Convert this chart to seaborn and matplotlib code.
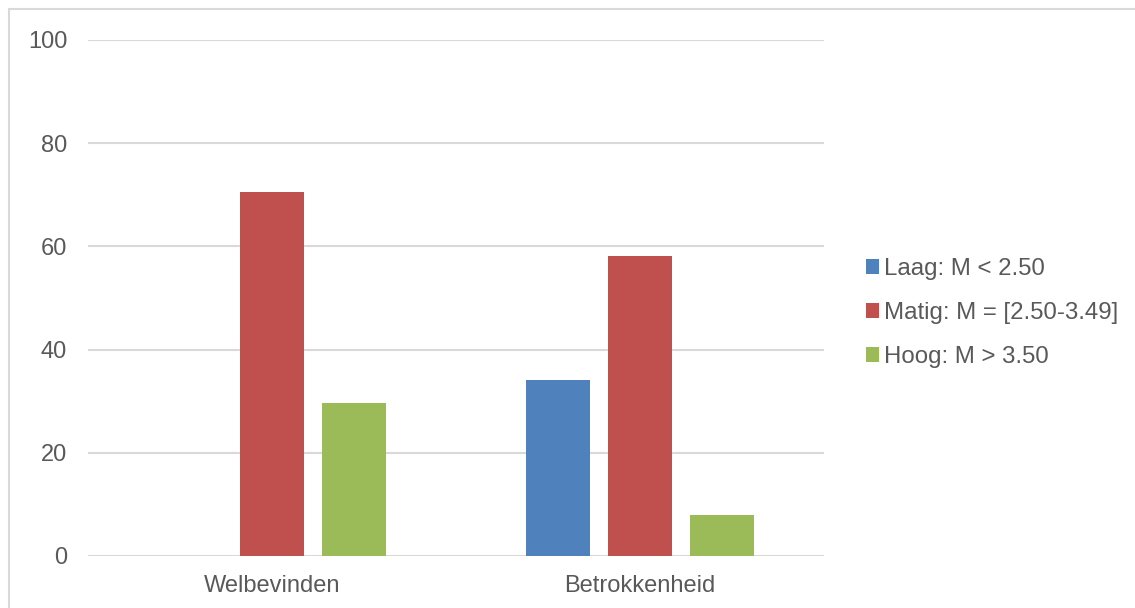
import matplotlib
matplotlib.use("Agg")
import matplotlib.pyplot as plt
import matplotlib.patches as mpatches
import seaborn as sns
import pandas as pd

categories = ["Welbevinden", "Betrokkenheid"]
series_names = ["Laag: M < 2.50", "Matig: M = [2.50-3.49]", "Hoog: M > 3.50"]
laag = [0.0, 34.1]
matig = [70.5, 58.2]
hoog = [29.6, 7.9]
colors = ["#4F81BD", "#C0504D", "#9BBB59"]
yticks = [0, 20, 40, 60, 80, 100]

rows = []
for name, vals in zip(series_names, [laag, matig, hoog]):
    for c, v in zip(categories, vals):
        rows.append({"cat": c, "serie": name, "val": v})
df = pd.DataFrame(rows)

sns.set_style("white")
plt.rcParams["font.family"] = ["Liberation Sans", "DejaVu Sans"]

fig = plt.figure(figsize=(11.35, 6.08), dpi=100)
ax = fig.add_axes([88/1135, 52/608, (824-88)/1135, (556-40)/608])

sns.barplot(data=df, x="cat", y="val", hue="serie", order=categories,
            hue_order=series_names, palette=colors, width=0.668, gap=0.21,
            saturation=1, ax=ax, edgecolor="none")

ax.set_xlim(-0.5, 1.5)
ax.set_ylim(0, 100)
ax.set_yticks(yticks)
ax.set_yticklabels([str(t) for t in yticks])
ax.yaxis.grid(True, color="#D9D9D9", linewidth=1.5)
ax.set_axisbelow(True)
for s in ax.spines.values():
    s.set_visible(False)
ax.set_xlabel("")
ax.set_ylabel("")
ax.tick_params(axis="both", length=0, labelsize=17, colors="#595959", pad=14)
ax.tick_params(axis="y", pad=15)

handles, labels = ax.get_legend_handles_labels()
ax.legend(handles, labels, loc="center left", bbox_to_anchor=(844/1135, 1 - 313/608),
          bbox_transform=fig.transFigure, frameon=False, fontsize=17.3,
          handlelength=0.55, handleheight=0.55, handletextpad=0.2, labelspacing=0.92,
          labelcolor="#595959")

frame = mpatches.Rectangle((9/1135, -0.1), 1.2, 1 - 9/608 + 0.1, transform=fig.transFigure,
                           fill=False, edgecolor="#D9D9D9", linewidth=1.5, zorder=-1)
fig.patches.append(frame)

fig.savefig("out.png", dpi=100)
